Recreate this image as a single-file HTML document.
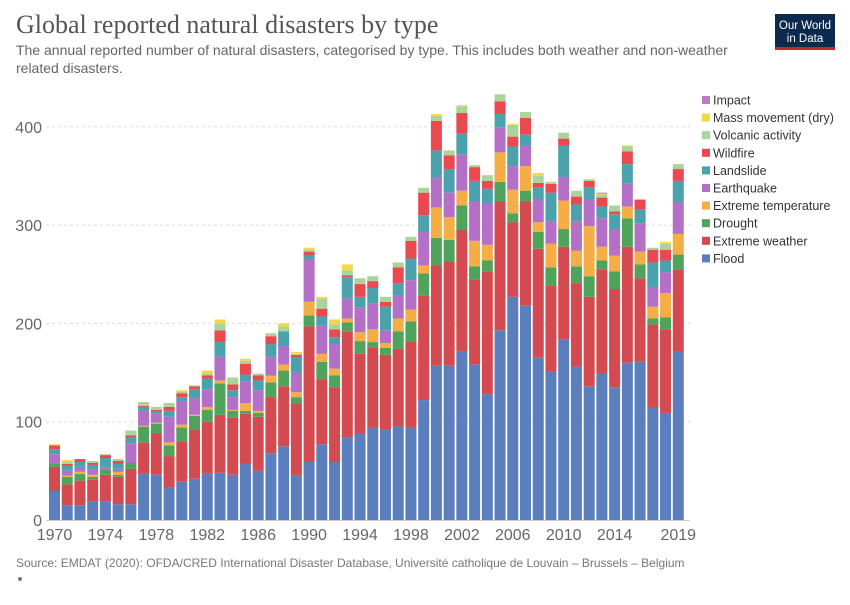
<!DOCTYPE html>
<html><head><meta charset="utf-8">
<style>
body{margin:0;background:#fff;width:850px;height:600px;overflow:hidden;font-family:"Liberation Sans",sans-serif;}
</style></head>
<body>
<svg id="chart" width="850" height="600" xmlns="http://www.w3.org/2000/svg">
<text x="16" y="33" font-family="Liberation Serif,serif" font-size="26" fill="#555">Global reported natural disasters by type</text>
<text x="16" y="55" font-size="14" fill="#666">The annual reported number of natural disasters, categorised by type. This includes both weather and non-weather</text>
<text x="16" y="73" font-size="14" fill="#666">related disasters.</text>
<g>
<rect x="775" y="14" width="60" height="36" fill="#0c2a4d"/>
<rect x="775" y="47" width="60" height="3" fill="#c8262c"/>
<text x="805" y="29" font-size="11.5" fill="#fff" text-anchor="middle">Our World</text>
<text x="805" y="42" font-size="11.5" fill="#fff" text-anchor="middle">in Data</text>
</g>
<g id="grid"></g>
<g id="bars"></g>
<g id="xaxis"></g>
<g id="legend"></g>
<text x="16" y="567" font-size="12" fill="#777">Source: EMDAT (2020): OFDA/CRED International Disaster Database, Université catholique de Louvain – Brussels – Belgium</text>
<circle cx="20" cy="579" r="2" fill="#777"/>
</svg>
<script>
const years = [];
for (let y = 1970; y <= 2019; y++) years.push(y);
const seriesNames = ["Flood","Extreme weather","Drought","Extreme temperature","Earthquake","Landslide","Wildfire","Volcanic activity","Mass movement (dry)","Impact"];
const seriesColors = ["#5b7fbd","#d34b50","#50a35a","#f5ad45","#b46fc6","#4ba2ad","#e9494f","#a9d59a","#f7d548","#b57cc0"];
const flood = [30,15,15,19,19,16,16,47,46,33,39,42,47,48,46,57,50,68,75,45,59,77,59,84,88,94,92,95,94,122,157,157,172,158,128,193,227,218,165,151,184,156,136,149,135,160,161,114,109,171];
const extremeWeather = [24,21,25,22,27,28,36,32,42,32,41,50,53,59,58,51,55,57,61,73,138,66,76,108,81,81,76,79,88,106,102,106,123,87,125,131,76,106,111,87,94,85,91,106,100,118,85,85,85,84];
const drought = [3,8,7,3,5,2,6,16,10,11,14,14,12,32,7,3,4,15,16,7,11,18,12,9,13,6,7,18,20,23,28,22,25,13,11,20,9,11,17,19,18,17,21,9,18,29,14,6,12,15];
const extremeTemp = [0,1,2,2,0,3,0,1,1,3,3,1,3,3,1,8,2,7,6,5,14,8,7,4,9,13,5,13,12,8,31,23,15,26,16,30,24,25,10,24,29,16,51,14,16,12,13,12,25,21];
const earthquake = [10,5,5,5,3,3,20,15,9,26,24,17,18,24,13,22,21,19,19,20,43,29,25,20,25,26,13,23,30,34,30,25,37,40,42,25,24,21,23,23,24,30,27,29,27,23,29,20,21,32];
const landslide = [5,5,5,5,9,5,6,4,2,6,4,9,11,15,7,7,10,13,15,15,4,9,7,22,11,16,24,13,22,17,28,24,21,21,15,14,20,11,12,29,32,17,12,12,15,20,14,25,12,22];
const wildfire = [4,2,3,2,3,3,2,1,2,4,4,3,3,12,6,11,5,8,0,3,4,8,8,2,13,7,5,16,18,23,30,14,21,14,8,13,10,17,5,9,7,8,7,9,3,13,10,13,11,12];
const volcanic = [0,2,0,2,1,2,5,4,3,4,2,1,2,7,7,3,2,3,5,1,2,10,5,5,6,5,5,5,4,5,5,5,7,2,5,7,12,6,7,2,6,6,1,3,6,5,0,2,6,5];
const massMovement = [1,2,0,0,0,0,0,0,0,0,1,0,3,4,0,2,0,0,3,2,2,2,5,6,0,0,0,0,0,0,2,0,1,0,1,0,1,0,3,0,0,0,1,1,0,1,0,0,2,0];
const impact = [0,0,0,0,0,0,0,0,0,0,0,0,0,0,0,0,0,0,0,0,0,0,0,0,0,0,0,0,0,0,0,0,0,0,0,0,0,0,0,0,0,0,0,1,0,0,0,0,0,0];
const series = [flood,extremeWeather,drought,extremeTemp,earthquake,landslide,wildfire,volcanic,massMovement,impact];
const yTicks = [0,100,200,300,400];
const xTickYears = [1970,1974,1978,1982,1986,1990,1994,1998,2002,2006,2010,2014,2019];

const NS = "http://www.w3.org/2000/svg";
const baseY = 520, pxPerUnit = 0.983, firstX = 54.5, step = 12.73, barW = 11;
const yScale = v => baseY - v * pxPerUnit;
const xScale = yr => firstX + (yr - 1970) * step;
function mk(tag, attrs, parent) {
  const e = document.createElementNS(NS, tag);
  for (const k in attrs) e.setAttribute(k, attrs[k]);
  parent.appendChild(e);
  return e;
}
const grid = document.getElementById("grid");
yTicks.forEach(t => {
  if (t > 0) {
    const l = mk("line", {x1: 46, x2: 692, y1: yScale(t), y2: yScale(t), stroke: "#ddd", "stroke-dasharray": "3,3"}, grid);
    
    
  }
  const tx = mk("text", {x: 42, y: yScale(t) + 6, "text-anchor": "end", "font-size": 16, fill: "#666"}, grid);
  tx.textContent = t;
  
  
});
const bars = document.getElementById("bars");
years.forEach((yr, i) => {
  let cum = 0;
  series.forEach((s, k) => {
    const v = s[i];
    if (v <= 0) return;
    const r = mk("rect", {x: xScale(yr) - barW / 2, y: yScale(cum + v), width: barW, height: v * pxPerUnit, fill: seriesColors[k]}, bars);
    
    
    cum += v;
  });
});
const xa = document.getElementById("xaxis");
const axl = mk("line", {x1: 46, x2: 690, y1: baseY + 0.5, y2: baseY + 0.5, stroke: "#ccc"}, xa);


xTickYears.forEach(yr => {
  const t = mk("text", {x: xScale(yr), y: 540, "text-anchor": "middle", "font-size": 16, fill: "#666"}, xa);
  t.textContent = yr;
  
  
});
const lg = document.getElementById("legend");
for (let k = 9; k >= 0; k--) {
  const row = 9 - k;
  const yy = 100 + row * 17.6;
  const g = mk("g", {}, lg);
  
  
  mk("rect", {x: 702, y: yy - 4, width: 8, height: 8, fill: seriesColors[k]}, g);
  const t = mk("text", {x: 713, y: yy + 4.5, "font-size": 12.5, fill: "#333"}, g);
  t.textContent = seriesNames[k];
}
</script>
</body></html>
